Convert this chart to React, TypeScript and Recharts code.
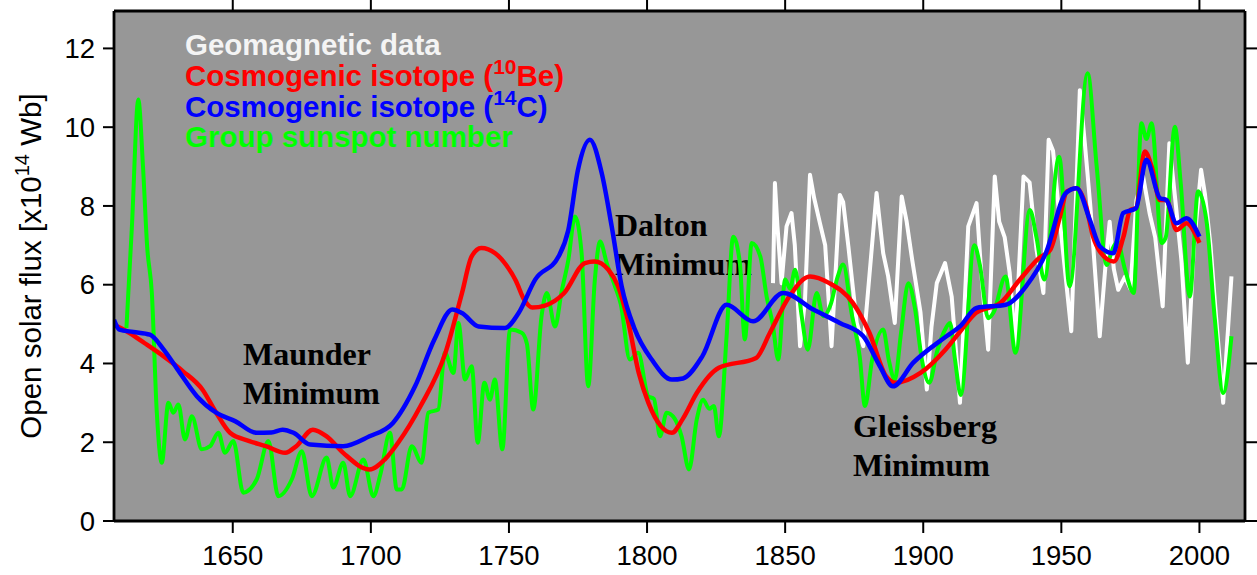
import { CartesianGrid, Line, LineChart, XAxis, YAxis } from 'recharts'

type Row = [number, number]
type Point = { year: number; flux: number }

const YEAR_TICKS = [1650, 1700, 1750, 1800, 1850, 1900, 1950, 2000]
const FLUX_TICKS = [0, 2, 4, 6, 8, 10, 12]

// open solar flux, x10^14 Wb, per reconstruction
const geomagnetic: Row[] = [
  [1845.6, 6.04], [1846.3, 8.58], [1847.2, 7.5], [1848.7, 6.04], [1850.5, 7.48],
  [1852.3, 7.82], [1853.5, 7.0], [1855.4, 4.44], [1857.2, 5.62], [1859, 8.79],
  [1860.5, 8.2], [1862.6, 7.56], [1864.5, 7.0], [1866.8, 4.44], [1869.8, 8.28],
  [1871, 8.1], [1872.9, 6.97], [1875.9, 5.03], [1878.3, 4.44], [1883.1, 8.33],
  [1885.5, 6.8], [1887.3, 6.21], [1889.7, 5.03], [1892.2, 8.24], [1894, 7.6],
  [1896, 6.63], [1899, 5.3], [1901.3, 3.34], [1903, 4.94], [1904.9, 6.04],
  [1907.9, 6.55], [1910.3, 5.7], [1913.3, 3.0], [1916.3, 7.48], [1919.3, 8.07],
  [1921, 6.3], [1923.5, 4.35], [1925.9, 8.75], [1927.5, 7.6], [1929.5, 7.2],
  [1931.3, 6.3], [1933.3, 4.44], [1936.3, 8.75], [1938.5, 8.6], [1941, 6.9],
  [1943.5, 5.79], [1945.4, 9.68], [1947, 9.4], [1949.5, 7.6], [1953.6, 4.82],
  [1956.7, 10.94], [1958.5, 9.6], [1960.5, 8.0], [1963.9, 4.69], [1966, 6.5],
  [1967.5, 7.6], [1969, 6.4], [1970.6, 5.87], [1973, 6.2], [1975, 5.9],
  [1977.2, 8.15], [1979.6, 8.75], [1982, 7.8], [1984, 7.2], [1986.7, 5.45],
  [1989.1, 9.59], [1991.5, 8.0], [1993.5, 6.6], [1995.8, 4.02], [1998, 7.0],
  [2000.6, 8.92], [2002, 8.3], [2004, 7.0], [2006, 5.2], [2008.6, 3.0],
  [2011.6, 6.21],
]

const beryllium10: Row[] = [
  [1607, 4.98], [1612, 4.8], [1618, 4.52], [1625, 4.18], [1632, 3.8],
  [1639, 3.34], [1644, 2.75], [1649, 2.24], [1656, 2.03], [1662, 1.9],
  [1669, 1.73], [1673, 1.9], [1679, 2.32], [1684, 2.15], [1690, 1.73],
  [1699.5, 1.31], [1705, 1.56], [1710, 2.0], [1718, 2.92], [1727, 4.27],
  [1733, 5.79], [1736.5, 6.72], [1740, 6.93], [1745, 6.8], [1749, 6.5],
  [1752.5, 6.1], [1755.5, 5.62], [1758.5, 5.42], [1763, 5.47], [1770, 5.79],
  [1777.5, 6.55], [1781, 6.59], [1786, 6.38], [1789.5, 5.96], [1793, 5.11],
  [1797, 3.76], [1800.5, 3.0], [1805, 2.41], [1809, 2.24], [1813, 2.6],
  [1818, 3.25], [1826, 3.89], [1839.5, 4.14], [1844.5, 4.78], [1851.5, 5.7],
  [1859, 6.21], [1866, 6.04], [1874.5, 5.54], [1880.5, 4.78], [1886.5, 3.68],
  [1890, 3.51], [1899, 3.76], [1908, 4.35], [1913, 4.78], [1919, 5.28],
  [1928, 5.54], [1935, 6.13], [1942, 6.68], [1946, 6.89], [1949.5, 7.73],
  [1952, 8.37], [1955.5, 8.45], [1959, 7.98], [1961.5, 7.22], [1964, 6.84],
  [1969, 6.59], [1972.5, 7.22], [1975, 7.9], [1977, 7.94], [1980.2, 9.38],
  [1982.7, 9.0], [1985.7, 8.15], [1988, 8.15], [1991.7, 7.39], [1995.3, 7.56],
  [2000, 7.06],
]

const carbon14: Row[] = [
  [1607, 5.11], [1609, 4.86], [1614, 4.8], [1620, 4.73], [1625, 4.35],
  [1630, 3.85], [1637, 3.17], [1644, 2.75], [1651, 2.53], [1658.5, 2.24],
  [1664, 2.25], [1668, 2.32], [1672, 2.24], [1678, 1.94], [1690, 1.9],
  [1699.5, 2.15], [1708, 2.49], [1716, 3.42], [1723, 4.61], [1729.5, 5.37],
  [1733, 5.28], [1739, 4.94], [1748.5, 4.9], [1753.5, 5.28], [1759.5, 6.13],
  [1768, 6.72], [1771.5, 7.39], [1775, 8.92], [1779.3, 9.68], [1783.6, 8.83],
  [1787.2, 7.48], [1790.8, 5.96], [1795.6, 4.86], [1801.7, 4.1], [1809, 3.59],
  [1813, 3.62], [1820, 4.18], [1828.8, 5.49], [1838.4, 5.07], [1849.3, 5.79],
  [1860.2, 5.37], [1869.8, 5.03], [1878.3, 4.69], [1884.3, 3.93], [1889, 3.42],
  [1896.4, 4.02], [1908.4, 4.69], [1913.3, 4.94], [1919.3, 5.41], [1929.9, 5.49],
  [1937.2, 5.96], [1944.4, 6.8], [1951.7, 8.33], [1955.5, 8.45], [1960.3, 7.65],
  [1964, 6.97], [1968.8, 6.8], [1972.4, 7.82], [1977, 7.94], [1980.8, 9.17],
  [1985.7, 8.2], [1988, 8.15], [1991.7, 7.56], [1995.3, 7.69], [2000, 7.22],
]

const sunspotGroups: Row[] = [
  [1611.5, 4.9], [1613.5, 7.5], [1615.8, 10.7], [1617.5, 9.0], [1619, 6.97],
  [1620.7, 5.79], [1622.5, 2.75], [1624.3, 1.48], [1626.7, 3.0], [1628.5, 2.75],
  [1630.3, 2.96], [1632.7, 2.07], [1635.2, 2.66], [1638.8, 1.82], [1641.8, 1.9],
  [1644.8, 2.24], [1647.2, 1.73], [1650.2, 2.03], [1653.8, 0.72], [1658.7, 1.06],
  [1662.9, 2.03], [1666.5, 0.63], [1671.4, 1.06], [1675, 1.77], [1678.6, 0.63],
  [1684, 1.61], [1686.4, 0.85], [1690, 1.48], [1692.5, 0.63], [1697.3, 1.56],
  [1700.9, 0.63], [1703.5, 1.2], [1706.9, 2.24], [1709.4, 0.8], [1711.2, 0.8],
  [1714.8, 1.9], [1718.4, 1.48], [1720.8, 2.75], [1724.4, 2.83], [1726.8, 4.27],
  [1729.9, 3.76], [1731.7, 5.03], [1734.1, 3.59], [1736.5, 3.93], [1738.7, 1.99],
  [1741.1, 3.51], [1743.1, 3.08], [1744.9, 3.59], [1747.6, 1.82], [1750.4, 4.86],
  [1754.6, 4.78], [1756.5, 4.5], [1758.8, 2.83], [1761.8, 5.2], [1763.7, 5.79],
  [1766.7, 4.94], [1769, 5.8], [1771.5, 6.63], [1773.9, 7.73], [1776.3, 6.8],
  [1778.7, 3.42], [1781.1, 6.13], [1783, 7.1], [1785.4, 6.55], [1788.4, 5.96],
  [1790.5, 5.5], [1793.8, 4.1], [1796.8, 4.27], [1800.4, 3.17], [1802.5, 3.1],
  [1804.7, 2.15], [1807.1, 2.75], [1810, 2.6], [1812.5, 2.15], [1815.2, 1.31],
  [1818, 2.58], [1820.3, 3.08], [1822.5, 2.85], [1824.2, 2.92], [1826, 2.15],
  [1828.8, 4.69], [1831.2, 7.22], [1833.6, 6.55], [1835.4, 4.61], [1837.9, 7.06],
  [1841, 6.72], [1843.3, 5.7], [1845.5, 5.0], [1847.5, 4.1], [1850, 6.13],
  [1851.8, 5.9], [1853.6, 6.38], [1856, 5.2], [1858.2, 4.35], [1861.4, 5.79],
  [1863.8, 5.2], [1866.5, 5.5], [1869, 6.2], [1871, 6.51], [1874, 5.3],
  [1877, 4.18], [1878.9, 2.92], [1881.5, 4.1], [1885.5, 4.86], [1887.5, 4.1],
  [1889.7, 3.59], [1892, 4.8], [1894.6, 6.04], [1897, 5.4], [1899.5, 4.1],
  [1902.2, 3.51], [1905, 4.3], [1907.5, 4.8], [1909.7, 5.03], [1911.5, 4.1],
  [1913.6, 3.2], [1918.5, 7.0], [1920.5, 6.5], [1923.5, 5.15], [1925.5, 5.3],
  [1929.8, 6.21], [1933.4, 4.27], [1938.6, 7.9], [1941, 7.2], [1943.8, 6.13],
  [1949.2, 9.25], [1953, 5.96], [1959.5, 11.37], [1962.8, 9.0], [1966.4, 6.5],
  [1968.5, 6.9], [1970.3, 7.1], [1973, 6.4], [1976.2, 5.79], [1979, 10.1],
  [1980.8, 9.7], [1982.7, 10.1], [1986.3, 7.06], [1987.8, 7.2], [1991.1, 10.01],
  [1993.2, 8.6], [1996.5, 5.7], [1999.5, 8.37], [2002.6, 7.6], [2005.6, 5.11],
  [2008.6, 3.25], [2011.6, 4.69],
]

const toPoints = (rows: Row[]): Point[] => rows.map(([year, flux]) => ({ year, flux }))

const SANS = 'Liberation Sans, Arial, sans-serif'
const SERIF = 'Liberation Serif, Times New Roman, serif'
const PANEL = '#979797'
const AXIS = { stroke: '#000', strokeWidth: 2.8 }
const TICK_LINE = { stroke: '#000', strokeWidth: 2 }
const TICK_TEXT = { fontSize: 27.5, fill: '#000', fontFamily: SANS }
const blank = () => ''

function LegendLine({ y, color, pre, sup, post }: { y: number; color: string; pre: string; sup?: string; post?: string }) {
  return (
    <text x={185} y={y} fill={color} fontFamily={SANS} fontWeight="bold" fontSize={29.5}>
      {pre}
      {sup && (
        <tspan dy={-12} fontSize={21}>
          {sup}
        </tspan>
      )}
      {post && <tspan dy={sup ? 12 : 0}>{post}</tspan>}
    </text>
  )
}

function Note({ x, y, lines }: { x: number; y: number; lines: string[] }) {
  return (
    <text x={x} y={y} fontFamily={SERIF} fontWeight="bold" fontSize={32} fill="#000">
      {lines.map((line, i) => (
        <tspan key={line} x={x} dy={i === 0 ? 0 : 39}>
          {line}
        </tspan>
      ))}
    </text>
  )
}

export default function App() {
  return (
    <div style={{ position: 'absolute', left: 0, top: 0, background: '#fff' }}>
      <LineChart width={1257} height={575} margin={{ top: 0, right: 0, bottom: 0, left: 0 }}>
        <CartesianGrid fill={PANEL} horizontal={false} vertical={false} />
        <XAxis
          type="number"
          dataKey="year"
          domain={[1607, 2016.5]}
          ticks={YEAR_TICKS}
          height={54}
          tickSize={12}
          tickMargin={12}
          axisLine={AXIS}
          tickLine={TICK_LINE}
          tick={TICK_TEXT}
          allowDataOverflow
        />
        <XAxis
          xAxisId="top"
          orientation="top"
          type="number"
          dataKey="year"
          domain={[1607, 2016.5]}
          ticks={YEAR_TICKS}
          height={11}
          tickSize={11}
          axisLine={AXIS}
          tickLine={TICK_LINE}
          tickFormatter={blank}
          allowDataOverflow
        />
        <YAxis
          type="number"
          domain={[0, 12.95]}
          ticks={FLUX_TICKS}
          width={114}
          tickSize={11}
          tickMargin={8}
          axisLine={AXIS}
          tickLine={TICK_LINE}
          tick={TICK_TEXT}
          allowDataOverflow
        />
        <YAxis
          yAxisId="right"
          orientation="right"
          type="number"
          domain={[0, 12.95]}
          ticks={FLUX_TICKS}
          width={12}
          tickSize={12}
          axisLine={AXIS}
          tickLine={TICK_LINE}
          tickFormatter={blank}
          allowDataOverflow
        />

        <Line
          xAxisId="top"
          data={toPoints(geomagnetic)}
          dataKey="flux"
          type="linear"
          stroke="#ffffff"
          strokeWidth={4}
          strokeLinejoin="round"
          dot={false}
          activeDot={false}
          isAnimationActive={false}
        />
        <Line
          data={toPoints(sunspotGroups)}
          dataKey="flux"
          type="monotone"
          stroke="#00ff00"
          strokeWidth={4}
          dot={false}
          activeDot={false}
          isAnimationActive={false}
        />
        <Line
          yAxisId="right"
          data={toPoints(beryllium10)}
          dataKey="flux"
          type="monotone"
          stroke="#ff0000"
          strokeWidth={4.5}
          dot={false}
          activeDot={false}
          isAnimationActive={false}
        />
        <Line
          data={toPoints(carbon14)}
          dataKey="flux"
          type="monotone"
          stroke="#0000ff"
          strokeWidth={4.5}
          dot={false}
          activeDot={false}
          isAnimationActive={false}
        />

        <text transform="rotate(-90)" x={-266} y={41} textAnchor="middle" fontFamily={SANS} fontSize={29.5} fill="#000">
          Open solar flux [x10
          <tspan dy={-12} fontSize={20}>14</tspan>
          <tspan dy={12}> Wb]</tspan>
        </text>

        <LegendLine y={55} color="#f4f4f4" pre="Geomagnetic data" />
        <LegendLine y={85.5} color="#ff0000" pre="Cosmogenic isotope (" sup="10" post="Be)" />
        <LegendLine y={116.5} color="#0000ff" pre="Cosmogenic isotope (" sup="14" post="C)" />
        <LegendLine y={147} color="#00ff00" pre="Group sunspot number" />

        <Note x={243} y={365} lines={['Maunder', 'Minimum']} />
        <Note x={615} y={236} lines={['Dalton', 'Minimum']} />
        <Note x={853} y={437} lines={['Gleissberg', 'Minimum']} />
      </LineChart>
    </div>
  )
}
